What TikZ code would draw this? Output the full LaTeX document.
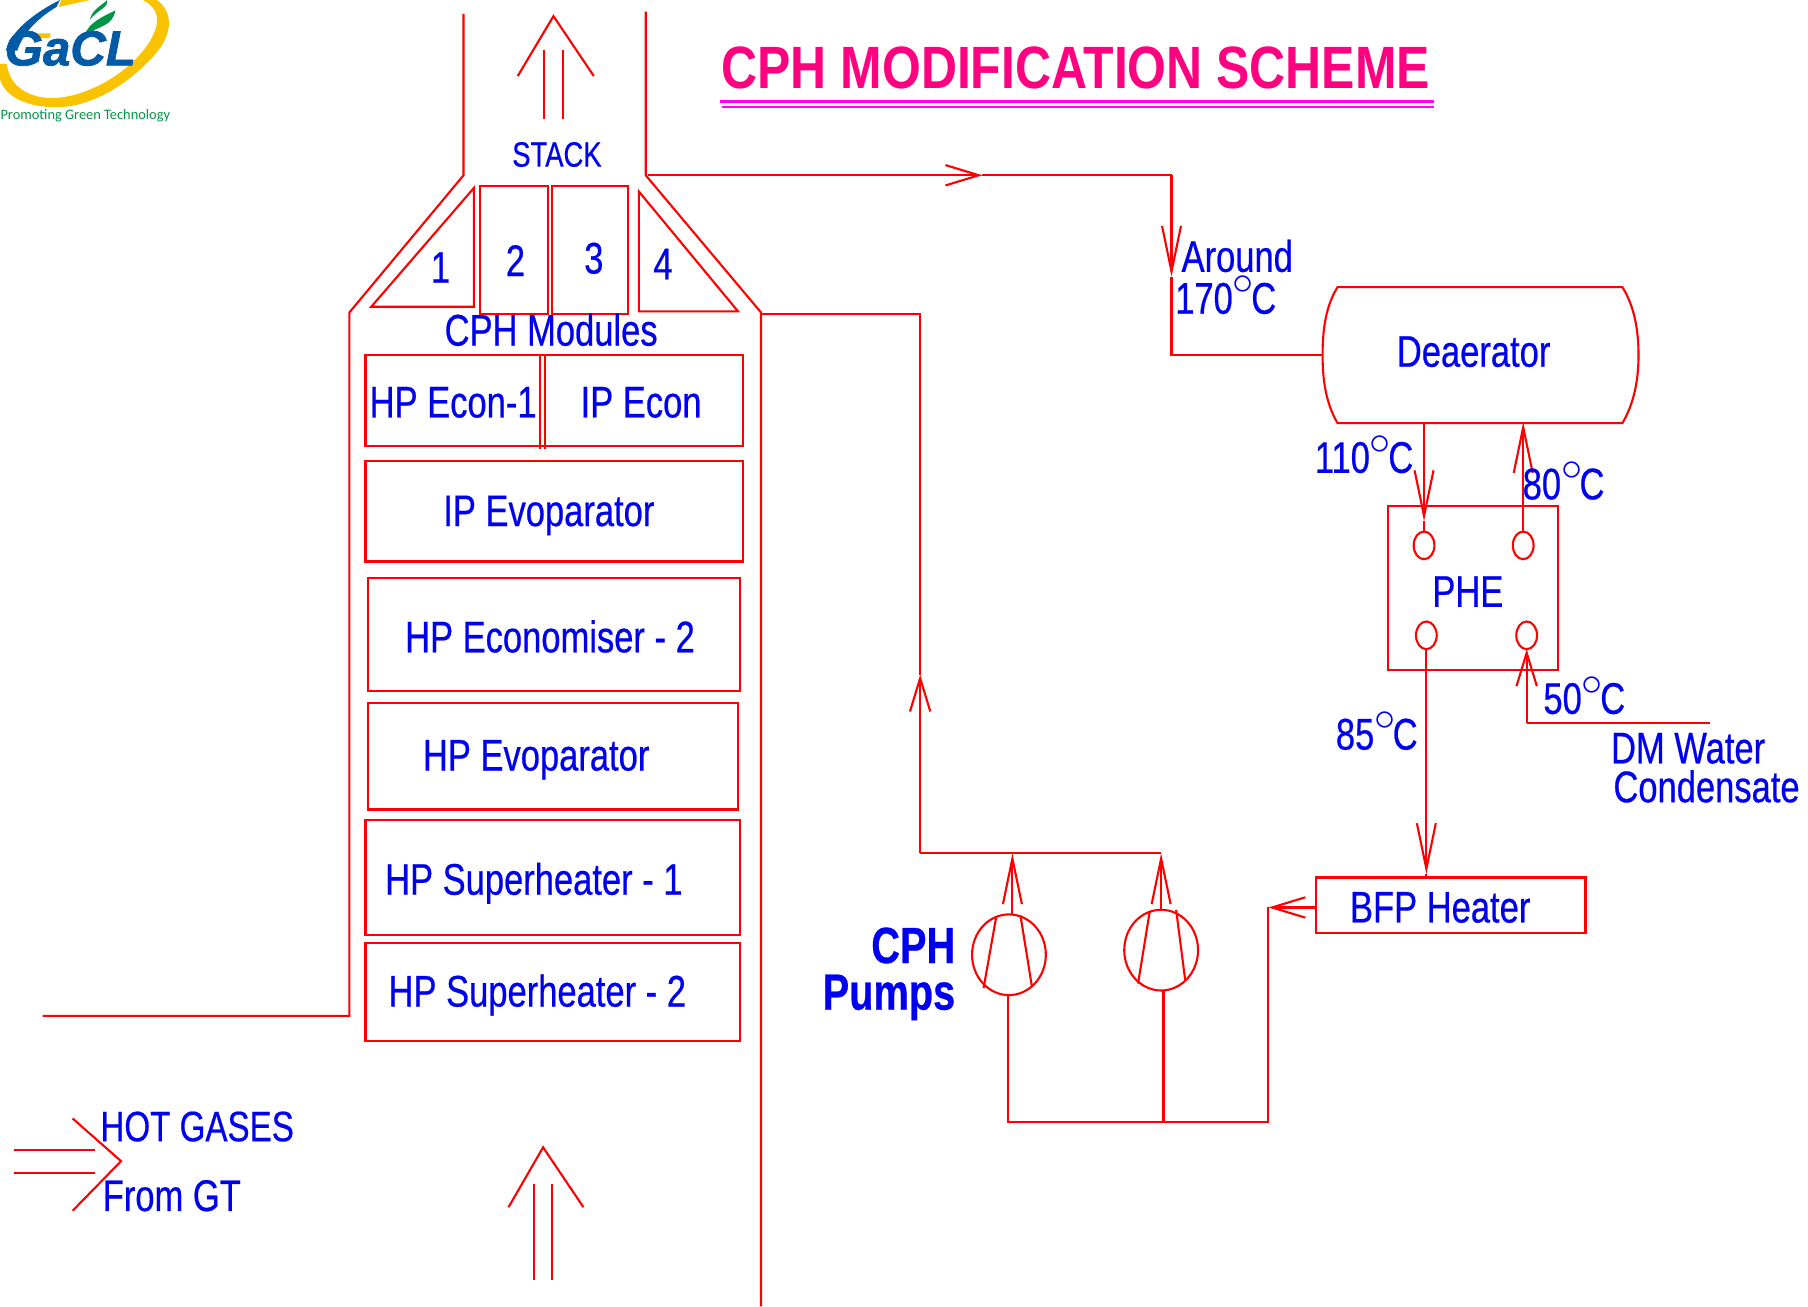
\documentclass[tikz,border=0pt]{standalone}
\usepackage{fontspec}
\setmainfont[FakeStretch=0.78,FakeBold=0.5]{Liberation Sans}
\newfontfamily\titlefont[FakeStretch=0.835]{Liberation Sans}
\newfontfamily\gaclfont[FakeBold=1.5]{Liberation Sans}
\newfontfamily\logofont{Carlito}
\usetikzlibrary{positioning,calc,arrows.meta,shapes.geometric}
\definecolor{pipe_red}{RGB}{255,0,0}
\definecolor{label_blue}{RGB}{0,0,240}
\definecolor{title_pink}{RGB}{255,0,128}
\definecolor{rule_pink}{RGB}{255,0,255}
\definecolor{logo_blue}{RGB}{0,90,165}
\definecolor{logo_yellow}{RGB}{250,195,0}
\definecolor{logo_green}{RGB}{0,150,70}
\newcommand{\degc}{\raisebox{0.8ex}{$\circ$}\kern-0.06em C}
\def\unit{0.01153cm}

\begin{document}
\begin{tikzpicture}[
        x=0.01153cm, y=-0.01153cm, % Coordinates follow the picture, y runs down
        % Define a style for all the red lines
        red_pipe/.style={draw=pipe_red,line width=0.6pt},
        % Define styles for the open arrow heads on the pipes
        flow_arrow/.style={-{Straight Barb[length=13pt,width=5.4pt]}},
        short_arrow/.style={-{Straight Barb[length=9.5pt,width=5.8pt]}},
        % Define a style for the rectangular boxes
        module_box/.style={rectangle,red_pipe,inner sep=0pt,outer sep=0pt},
        % Define a style for the pump circles
        pump_circle/.style={ellipse,red_pipe,inner sep=0pt,outer sep=0pt,minimum width=64*\unit,minimum height=70*\unit},
        % Define a style for the small ports in the PHE
        port_circle/.style={ellipse,red_pipe,inner sep=0pt,outer sep=0pt,minimum width=18*\unit,minimum height=24*\unit},
        % Define a style for the blue texts
        blue_label/.style={text=label_blue,inner sep=0pt,font=\fontsize{12.6}{14}\selectfont}
    ]

    \useasboundingbox (0,0) rectangle (1568,1133);

    % Draw the logo
    \begin{scope}
        \clip (0,0) rectangle (160,110);
        \fill[logo_yellow] (136,0) .. controls (150,10) and (152,30) .. (130,52) .. controls (105,78) and (75,93) .. (49,93) .. controls (25,93) and (5,85) .. (0,69) -- (0,55.5) -- (6,55.5) .. controls (8,75) and (25,85) .. (45,85) .. controls (80,85) and (125,55) .. (135,25) .. controls (139,12) and (133,5) .. (124,0) -- cycle;
        \fill[logo_yellow] (51,6) -- (53,0) -- (78,0) -- cycle;
        \fill[logo_blue] (52,0) .. controls (28,12) and (9,28) .. (5,44) -- (15,44) .. controls (20,28) and (34,15) .. (49,6) -- cycle;
        \fill[logo_yellow] (29,29) -- (44,29) -- (43,33) -- (28,33) -- cycle;
        \fill[logo_green] (74,30) .. controls (76,20) and (90,14) .. (100,9) .. controls (98,22) and (88,22) .. (74,30) -- cycle;
        \fill[logo_green] (78,17) .. controls (80,8) and (88,5) .. (93,0) .. controls (94,7) and (85,8) .. (78,17) -- cycle;
    \end{scope}
    \node[text=logo_blue,inner sep=0pt,font=\gaclfont\bfseries\itshape\fontsize{14}{16}\selectfont] (logo_name) at (61,42) {GaCL};
    \node[text=logo_green,inner sep=0pt,font=\logofont\fontsize{4.1}{6}\selectfont] (logo_line) at (74,100) {Promoting Green Technology};

    % Draw the title and its two rules
    \node[text=title_pink,inner sep=0pt,font=\titlefont\bfseries\fontsize{17}{20}\selectfont] (title) at (933,59) {CPH MODIFICATION SCHEME};
    \draw[draw=rule_pink,line width=0.7pt] (624,88) -- (1244,88);
    \draw[draw=rule_pink,line width=0.7pt] (626,93) -- (1244,93);

    % Draw the walls of the stack and the duct
    \draw[red_pipe] (402,12) -- (402,152) -- (303,271) -- (303,881) -- (37,881);
    \draw[red_pipe] (560,10) -- (560,152) -- (660,271) -- (660,1133);

    % Draw the CPH modules at the top
    \node[module_box,minimum width=59*\unit,minimum height=111*\unit] (module_two) at (445.5,216.5) {};
    \node[module_box,minimum width=66*\unit,minimum height=111*\unit] (module_three) at (512,216.5) {};
    \draw[red_pipe] (411,163) -- (411,266) -- (322,266) -- cycle;
    \draw[red_pipe] (554,166) -- (554,270) -- (640,270) -- cycle;

    % Draw the boxes of the duct
    \foreach \name/\cx/\cy/\boxw/\boxh in {hp_econ/480.5/347.5/327/79, ip_evap/480.5/443.5/327/87, hp_economiser/480.5/550/323/98, hp_evap/479.5/656/321/92, hp_super_one/479.5/761/325/100, hp_super_two/479.5/860.5/325/85}
        \node[module_box,minimum width=\boxw*\unit,minimum height=\boxh*\unit] (\name) at (\cx,\cy) {};
    \draw[red_pipe] (468,308) -- (468,389);
    \draw[red_pipe] (473,308) -- (473,389);

    % Draw the plant on the right
    \node[inner sep=0pt,outer sep=0pt,minimum width=274*\unit,minimum height=118*\unit] (deaerator) at (1284,308) {};
    \draw[red_pipe] (1160,249) -- (1407,249) .. controls (1417,265) and (1421,285) .. (1421,308) .. controls (1421,330) and (1417,350) .. (1407,367) -- (1160,367) .. controls (1150,350) and (1147,330) .. (1147,308) .. controls (1147,285) and (1150,265) .. (1160,249) -- cycle;
    \node[module_box,minimum width=147*\unit,minimum height=142*\unit] (phe) at (1277.5,510) {};
    \node[module_box,minimum width=234*\unit,minimum height=48*\unit] (bfp_heater) at (1258,785) {};
    \node[port_circle] (port_a) at (1235,473) {};
    \node[port_circle] (port_b) at (1321,473) {};
    \node[port_circle] (port_c) at (1237,551) {};
    \node[port_circle] (port_d) at (1324,551) {};
    \node[pump_circle] (pump_a) at (875,828) {};
    \node[pump_circle] (pump_b) at (1007,824) {};

    % Draw the vanes of the pumps
    \draw[red_pipe] (864,795) -- (853,857);
    \draw[red_pipe] (885,794) -- (895,856);
    \draw[red_pipe] (997,791) -- (987,853);
    \draw[red_pipe] (1020,789) -- (1028,851);

    % Define the free ends and corners of the pipes
    \coordinate (stack_tap) at (562,152);
    \coordinate (stack_head) at (852,152);
    \coordinate (stack_corner) at (1016,152);
    \coordinate (around_head) at (1016,240);
    \coordinate (around_corner) at (1016,308);
    \coordinate (duct_tap) at (660,272);
    \coordinate (riser_head) at (798,585);
    \coordinate (riser_top) at (798,272);
    \coordinate (riser_bottom) at (798,740);
    \coordinate (header_a) at (878,740);
    \coordinate (header_b) at (1007,740);
    \coordinate (suction_a) at (874,973);
    \coordinate (suction_b) at (1009,973);
    \coordinate (suction_c) at (1100,973);
    \coordinate (bfp_head) at (1100,787);
    \coordinate (drain_head) at (1235,452);
    \coordinate (drain_top) at (1235,367);
    \coordinate (return_head) at (1321,366);
    \coordinate (heater_head) at (1237,758);
    \coordinate (dm_head) at (1324,563);
    \coordinate (dm_corner) at (1324,627);
    \coordinate (dm_end) at (1483,627);

    % Draw the pipes, the heads sit in the middle of some of them
    \draw[red_pipe,short_arrow] (stack_tap) -- (stack_head);
    \draw[red_pipe] (stack_head) -- (stack_corner);
    \draw[red_pipe,flow_arrow] (stack_corner) -- (around_head);
    \draw[red_pipe] (around_head) -- (around_corner) -- (around_corner -| deaerator.west);
    \draw[red_pipe] (duct_tap) -- (riser_top) -- (riser_head);
    \draw[red_pipe,short_arrow] (riser_bottom) -- (riser_head);
    \draw[red_pipe] (riser_bottom) -- (header_a) -- (header_b);
    \draw[red_pipe,flow_arrow] (pump_a.north -| header_a) -- (header_a);
    \draw[red_pipe,flow_arrow] (pump_b.north) -- (header_b);
    \draw[red_pipe] (pump_a.south -| suction_a) -- (suction_a) -- (suction_b) -- (suction_c) -- (bfp_head);
    \draw[red_pipe] (pump_b.south -| suction_b) -- (suction_b);
    \draw[red_pipe,short_arrow] (bfp_heater.west |- bfp_head) -- (bfp_head);
    \draw[red_pipe,flow_arrow] (drain_top) -- (drain_head);
    \draw[red_pipe] (drain_head) -- (port_a.north);
    \draw[red_pipe,flow_arrow] (port_b.north) -- (return_head);
    \draw[red_pipe,flow_arrow] (port_c.south) -- (heater_head);
    \draw[red_pipe] (heater_head) -- (heater_head |- bfp_heater.north);
    \draw[red_pipe,short_arrow] (dm_corner) -- (dm_head);
    \draw[red_pipe] (dm_corner) -- (dm_end);

    % Draw the large open arrows of the gas flow
    \draw[red_pipe] (472,103) -- (472,43);
    \draw[red_pipe] (488,103) -- (488,43);
    \draw[red_pipe] (449,66) -- (480,14) -- (515,66);
    \draw[red_pipe] (12,997) -- (82,997);
    \draw[red_pipe] (12,1017) -- (82,1017);
    \draw[red_pipe] (63,970) -- (105,1007) -- (63,1050);
    \draw[red_pipe] (463,1110) -- (463,1027);
    \draw[red_pipe] (479,1110) -- (479,1027);
    \draw[red_pipe] (441,1047) -- (471,995) -- (506,1047);

    % Write the labels
    \foreach \name/\tx/\ty/\txt in {
        one_label/382/232/1, two_label/447/226/2, three_label/515/224/3, four_label/575/229/4,
        modules_label/478/286/CPH Modules, econ_one_label/393/349/HP Econ-1, ip_econ_label/556/349/IP Econ,
        ip_evap_label/476/447/IP Evoparator, hp_economiser_label/477/552/HP Economiser - 2, hp_evap_label/465/659/HP Evoparator,
        super_one_label/463/766/HP Superheater - 1, super_two_label/466/863/HP Superheater - 2,
        from_label/149/1037/From GT,
        around_label/1073/222/Around, deg_around_label/1063/256/170\degc, deaerator_label/1278/305/Deaerator,
        deg_drain_label/1183/394/110\degc, deg_return_label/1356/417/80\degc, phe_label/1273/513/PHE,
        deg_heater_label/1194/634/85\degc, deg_dm_label/1374/603/50\degc,
        water_label/1464/649/DM Water, condensate_label/1480/682/Condensate, bfp_label/1249/787/BFP Heater}
        \node[blue_label] (\name) at (\tx,\ty) {\txt};
    \node[blue_label,font=\fontsize{12.1}{14}\selectfont] (hot_label) at (171,977) {HOT GASES};
    \node[blue_label,font=\fontsize{10}{12}\selectfont] (stack_label) at (483,134) {STACK};
    \node[blue_label,font=\bfseries\fontsize{14.5}{16}\selectfont,anchor=east] (cph_label) at (829,820) {CPH};
    \node[blue_label,font=\bfseries\fontsize{14.5}{16}\selectfont,anchor=east] (pumps_label) at (829,865) {Pumps};

\end{tikzpicture}
\end{document}
